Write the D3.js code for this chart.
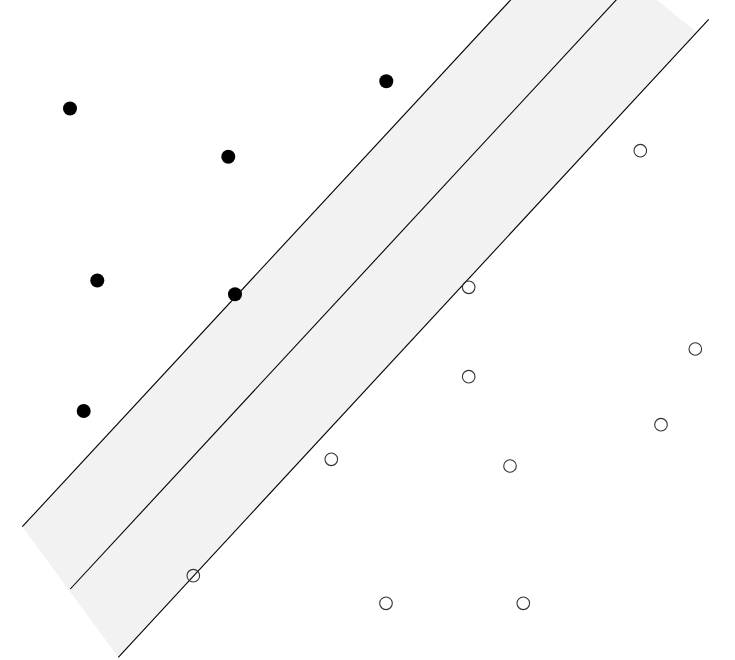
<!DOCTYPE html>
<html>
<head>
<meta charset="utf-8">
<script src="https://cdn.jsdelivr.net/npm/d3@7"></script>
<style>
  html, body { margin: 0; padding: 0; background: #fff; }
  svg { display: block; }
</style>
</head>
<body>
<svg id="chart" width="735" height="660"></svg>
<script>
// Class A (filled) points
const classAX = [1.40, 4.566, 7.726, 1.946, 4.70, 1.674];
const classAY = [11.03, 10.066, 11.574, 7.59, 7.314, 4.98];
// Class B (open) points
const classBX = [12.806, 9.374, 13.906, 9.374, 13.22, 6.626, 10.2, 3.866, 7.72, 10.466];
const classBY = [10.186, 7.454, 6.22, 5.666, 4.706, 4.014, 3.88, 1.686, 1.134, 1.134];
// Margin band polygon
const bandX = [0.446, 2.366, 13.92, 11.476];
const bandY = [2.666, 0.054, 12.566, 14.568];
// Lines: upper margin, decision boundary, lower margin (start/end)
const lineNames = ["upper", "boundary", "lower"];
const lineX1 = [0.446, 1.406, 2.366];
const lineY1 = [2.666, 1.42, 0.054];
const lineX2 = [12.25, 13.2, 14.174];
const lineY2 = [15.40, 14.146, 12.814];

const W = 735, H = 660;
const x = d3.scaleLinear().domain([0, 14.7]).range([0, W]);
const y = d3.scaleLinear().domain([0, 13.2]).range([H, 0]);
const svg = d3.select("#chart");

const band = bandX.map((v, i) => [x(v), y(bandY[i])]);
svg.append("path")
  .attr("d", d3.line()(band) + "Z")
  .attr("fill", "#f2f2f2")
  .attr("stroke", "none");

const lines = lineNames.map((n, i) => ({ n, x1: lineX1[i], y1: lineY1[i], x2: lineX2[i], y2: lineY2[i] }));
svg.selectAll("line.sep").data(lines).join("line")
  .attr("class", "sep")
  .attr("x1", d => x(d.x1)).attr("y1", d => y(d.y1))
  .attr("x2", d => x(d.x2)).attr("y2", d => y(d.y2))
  .attr("stroke", "#000").attr("stroke-width", 1.1);

const a = classAX.map((v, i) => ({ x: v, y: classAY[i] }));
const b = classBX.map((v, i) => ({ x: v, y: classBY[i] }));

svg.selectAll("circle.a").data(a).join("circle")
  .attr("class", "a")
  .attr("cx", d => x(d.x)).attr("cy", d => y(d.y))
  .attr("r", 7).attr("fill", "#000");

svg.selectAll("circle.b").data(b).join("circle")
  .attr("class", "b")
  .attr("cx", d => x(d.x)).attr("cy", d => y(d.y))
  .attr("r", 6.3).attr("fill", "none")
  .attr("stroke", "#333").attr("stroke-width", 1.1);
</script>
</body>
</html>
